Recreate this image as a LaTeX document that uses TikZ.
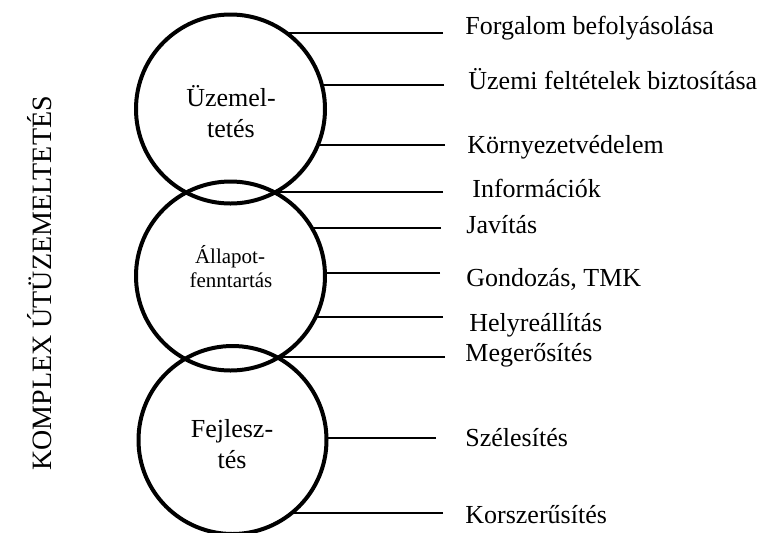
\documentclass[tikz,border=0pt]{standalone}
\usepackage{fontspec}
\setmainfont{Liberation Serif}
\begin{document}
\begin{tikzpicture}[x=0.5pt,y=-0.5pt,
  ring/.style={circle,draw,line width=2pt,minimum size=94.5pt,inner sep=0pt,outer sep=0pt},
  branch/.style={line width=0.9pt},
  item/.style={anchor=base west,inner sep=0pt,font=\fontsize{13}{15.5}\selectfont},
  ringtext/.style={anchor=base,inner sep=0pt,font=\fontsize{13}{15.5}\selectfont},
  smalltext/.style={anchor=base,inner sep=0pt,font=\fontsize{10.5}{12}\selectfont},
  title/.style={rotate=90,anchor=base,inner sep=0pt,font=\fontsize{14}{16}\selectfont},
]
\useasboundingbox (0,0) rectangle (767,532);

% vertical title
\node[title] (ttl) at (52,283.5) {KOMPLEX ÚTÜZEMELTETÉS};

% the three overlapping circles
\node[ring] (c1) at (230.5,109) {};
\node[ring] (c2) at (230.5,276) {};
\node[ring,minimum size=94pt] (c3) at (232.5,440) {};

% circle captions
\node[ringtext] (c1a) at (231,106) {Üzemel-};
\node[ringtext] (c1b) at (231,137) {tetés};
\node[smalltext] (c2a) at (230,263) {Állapot-};
\node[smalltext] (c2b) at (231,287) {fenntartás};
\node[ringtext] (c3a) at (232,437) {Fejlesz-};
\node[ringtext] (c3b) at (232,468) {tés};

% right ends of the branches
\coordinate (e1) at (443,33);
\coordinate (e2) at (444,85);
\coordinate (e3) at (445,145);
\coordinate (e4) at (443,192);
\coordinate (e5) at (441,228);
\coordinate (e6) at (440,273);
\coordinate (e7) at (443,317);
\coordinate (e8) at (445,357);
\coordinate (e9) at (436,438);
\coordinate (e10) at (443,513);

% branches from the circles
\draw[branch] (e1) -- (e1 -| c1.53.5);
\draw[branch] (e2) -- (e2 -| c1.14.7);
\draw[branch] (e3) -- (e3 -| c1.-22.4);
\draw[branch] (e4) -- (e4 -| c1.-61.4);
\draw[branch] (e5) -- (e5 -| c2.30.7);
\draw[branch] (e6) -- (e6 -| c2.1.8);
\draw[branch] (e7) -- (e7 -| c2.-25.9);
\draw[branch] (e8) -- (e8 -| c2.-59.5);
\draw[branch] (e9) -- (e9 -| c3.1.2);
\draw[branch] (e10) -- (e10 -| c3.-51);

% branch labels
\node[item] (t1) at (465,34) {Forgalom befolyásolása};
\node[item] (t2) at (468,89) {Üzemi feltételek biztosítása};
\node[item] (t3) at (467,153) {Környezetvédelem};
\node[item] (t4) at (472,197) {Információk};
\node[item] (t5) at (466,233) {Javítás};
\node[item] (t6) at (466,286) {Gondozás, TMK};
\node[item] (t7) at (469,331) {Helyreállítás};
\node[item] (t8) at (465,361) {Megerősítés};
\node[item] (t9) at (465,446) {Szélesítés};
\node[item] (t10) at (465,523) {Korszerűsítés};
\end{tikzpicture}
\end{document}
